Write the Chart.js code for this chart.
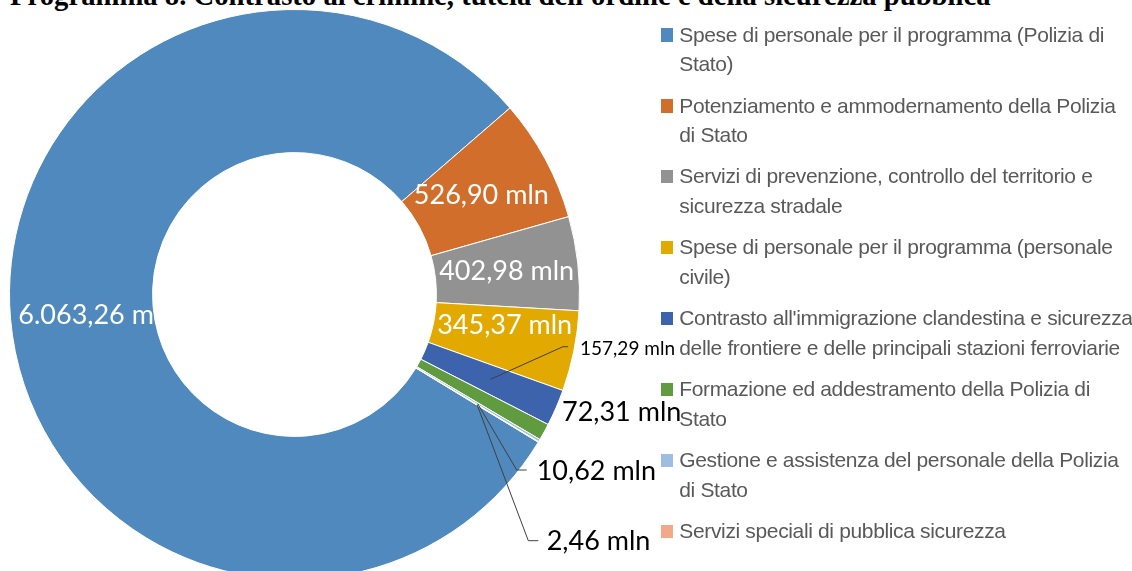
<!DOCTYPE html>
<html>
<head>
<meta charset="utf-8">
<script src="https://cdn.jsdelivr.net/npm/chart.js@4.4.0/dist/chart.umd.min.js"></script>
<style>
  html, body { margin: 0; padding: 0; background: #fff; }
  #page { position: relative; width: 1132px; height: 571px; overflow: hidden; }
  #title { position: absolute; left: 10px; top: -19.5px; font: bold 28.7px "Liberation Serif"; line-height: 1; white-space: nowrap; color: #000; }
  #pie { position: absolute; left: 0; top: 0; }
  #legend { position: absolute; left: 660.7px; top: 19.7px; margin: 0; padding: 0; list-style: none;
            font: 21px "Liberation Sans"; color: #595959; letter-spacing: -0.35px; }
  #legend li { position: relative; height: 70.9px; padding-left: 18.6px; line-height: 29.5px; white-space: nowrap; }
  #legend .box { position: absolute; left: 0; top: 8.6px; width: 12.6px; height: 13.4px; }
</style>
</head>
<body>
<div id="page">
  <div id="title">Programma 8. Contrasto al crimine, tutela dell'ordine e della sicurezza pubblica</div>
  <canvas id="pie" width="720" height="600"></canvas>
  <ul id="legend"></ul>
</div>
<script>
// categories (legend text, already split in the lines of the original)
const labels = [
  ['Spese di personale per il programma (Polizia di', 'Stato)'],
  ['Potenziamento e ammodernamento della Polizia', 'di Stato'],
  ['Servizi di prevenzione, controllo del territorio e', 'sicurezza stradale'],
  ['Spese di personale per il programma (personale', 'civile)'],
  ["Contrasto all'immigrazione clandestina e sicurezza", 'delle frontiere e delle principali stazioni ferroviarie'],
  ['Formazione ed addestramento della Polizia di', 'Stato'],
  ['Gestione e assistenza del personale della Polizia', 'di Stato'],
  ['Servizi speciali di pubblica sicurezza']
];
// milioni di euro
const values = [6063.26, 526.90, 402.98, 345.37, 157.29, 72.31, 10.62, 2.46];
const colors = ['#4f89bd', '#d26e2b', '#929292', '#e2a900', '#3c63ac', '#619b3f', '#9dbde3', '#f1a98a'];

// where each value label goes (inside = on the ring, otherwise offsets from the centre)
const labelLayout = [
  { inside: true, dx: 15, dy: 3 },
  { inside: true, dx: -1, dy: 2 },
  { inside: true, dx: 0, dy: 0 },
  { inside: true, dx: 1, dy: -12 },
  { size: 19, text: [285.5, 54.5], leader: [[268.5, 52.2], [273.5, 52.2]] },
  { text: [267.5, 118] },
  { text: [242.2, 177.2], leader: [[222.2, 175.5], [232.2, 175.5]] },
  { text: [252.2, 247.2], leader: [[233.8, 246.2], [243.8, 246.2]] }
];

function fmt(v) {
  let parts = v.toFixed(2).split('.');
  let int = parts[0].replace(/\B(?=(\d{3})+(?!\d))/g, '.');
  return int + ',' + parts[1] + ' mln';
}

const sliceLabels = {
  id: 'sliceLabels',
  afterDatasetsDraw(chart) {
    const ctx = chart.ctx;
    const arcs = chart.getDatasetMeta(0).data;
    ctx.save();
    arcs.forEach((arc, i) => {
      const p = arc.getProps(['x', 'y', 'startAngle', 'endAngle', 'innerRadius', 'outerRadius'], true);
      const mid = (p.startAngle + p.endAngle) / 2;
      const r = (p.innerRadius + p.outerRadius) / 2;
      const ax = p.x + Math.cos(mid) * r;
      const ay = p.y + Math.sin(mid) * r;
      const lay = labelLayout[i];
      ctx.font = (lay.size || 27) + 'px Lato';
      ctx.textBaseline = 'middle';
      if (lay.inside) {
        ctx.fillStyle = '#fff';
        ctx.textAlign = 'center';
        ctx.fillText(fmt(values[i]), ax + lay.dx, ay + lay.dy);
      } else {
        if (lay.leader) {
          ctx.beginPath();
          ctx.moveTo(ax, ay);
          lay.leader.forEach(q => ctx.lineTo(p.x + q[0], p.y + q[1]));
          ctx.strokeStyle = '#404040';
          ctx.lineWidth = 1;
          ctx.stroke();
        }
        ctx.fillStyle = '#000';
        ctx.textAlign = 'left';
        ctx.fillText(fmt(values[i]), p.x + lay.text[0], p.y + lay.text[1]);
      }
    });
    ctx.restore();
  }
};

new Chart('pie', {
  type: 'doughnut',
  data: {
    labels: labels,
    datasets: [{
      data: values,
      backgroundColor: colors,
      borderColor: '#fff',
      borderWidth: 1
    }]
  },
  options: {
    responsive: false,
    animation: false,
    events: [],
    radius: 285,
    cutout: '49.8%',
    rotation: 121.2,
    layout: { padding: { left: 0, top: 0, right: 131, bottom: 11 } },
    plugins: {
      legend: { display: false },
      tooltip: { enabled: false }
    }
  },
  plugins: [sliceLabels]
});

// legend built from the same arrays
const ul = document.getElementById('legend');
labels.forEach((lines, i) => {
  const li = document.createElement('li');
  const box = document.createElement('span');
  box.className = 'box';
  box.style.background = colors[i];
  li.appendChild(box);
  li.appendChild(document.createTextNode(lines[0]));
  for (let k = 1; k < lines.length; k++) {
    li.appendChild(document.createElement('br'));
    li.appendChild(document.createTextNode(lines[k]));
  }
  ul.appendChild(li);
});
</script>
</body>
</html>
